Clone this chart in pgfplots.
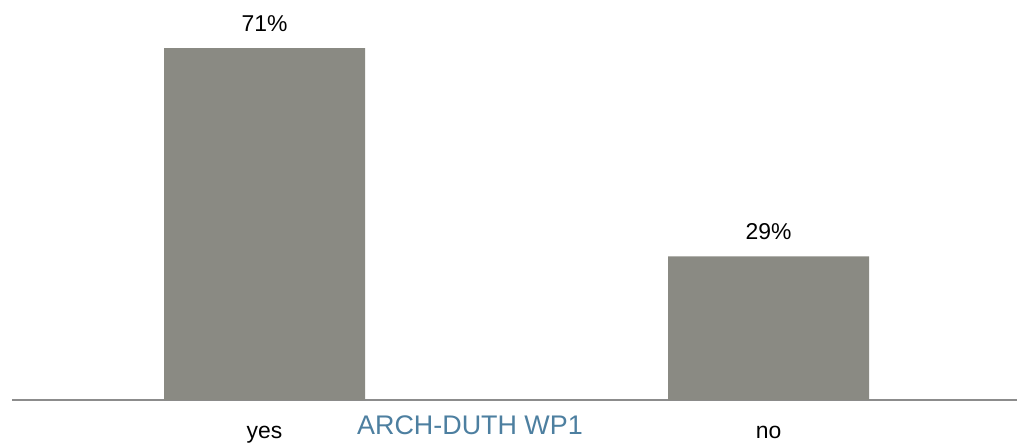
\documentclass[border=0pt]{standalone}
\usepackage{fontspec}
\setmainfont{Liberation Sans}
\usepackage{pgfplots}
\pgfplotsset{compat=1.18}
\definecolor{barGray}{HTML}{8A8A83}
\definecolor{axisGray}{HTML}{8C8C8C}
\definecolor{titleBlue}{HTML}{4D7FA0}
\begin{document}
\begin{tikzpicture}
\useasboundingbox (0,0) rectangle (1017bp,444bp);
\begin{axis}[
  at={(12bp,44bp)}, anchor=south west,
  scale only axis,
  width=1005bp, height=400bp,
  xmin=-0.501, xmax=1.493,
  ymin=0, ymax=80.7,
  axis y line=none,
  axis x line*=bottom,
  x axis line style={draw=axisGray, line width=2.5bp, -},
  xtick=data,
  xticklabels={yes,no},
  xtick style={draw=none},
  xticklabel style={anchor=base, yshift=-34bp, font=\fontsize{23}{27}\selectfont},
  ybar,
  bar width=201bp,
  clip=false,
  nodes near coords={\pgfmathprintnumber{\pgfplotspointmeta}\%},
  every node near coord/.append style={anchor=base, yshift=17bp, black,
    font=\fontsize{23}{27}\selectfont,
    /pgf/number format/assume math mode=true},
]
\addplot[fill=barGray, draw=none] coordinates {(0,71) (1,29)};
\end{axis}
\node[text=titleBlue, font=\fontsize{27}{31}\selectfont, anchor=base] at (470bp,10bp) {ARCH-DUTH WP1};
\end{tikzpicture}
\end{document}
